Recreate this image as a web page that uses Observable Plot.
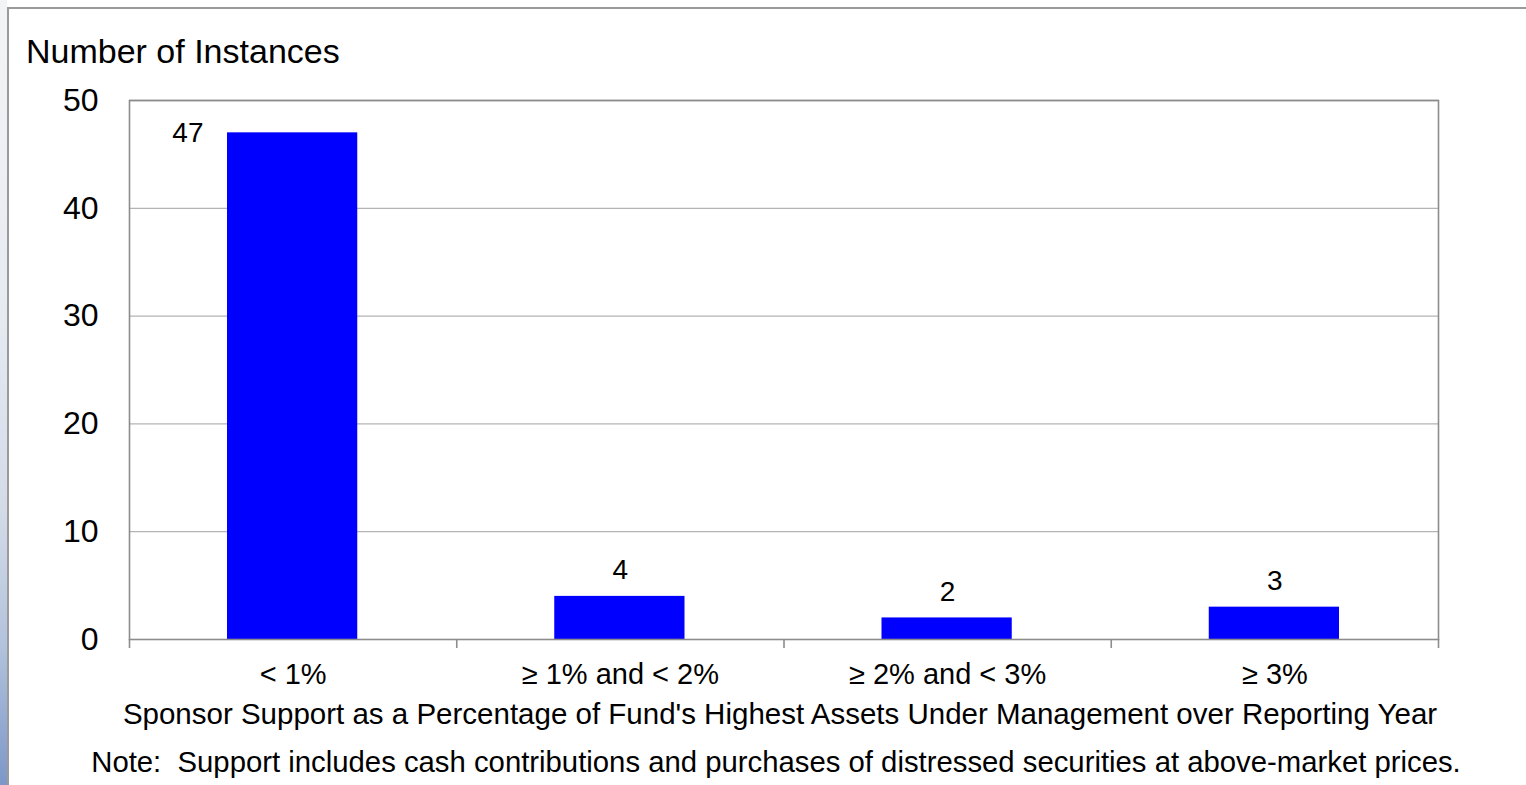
<!DOCTYPE html>
<html>
<head>
<meta charset="utf-8">
<script src="https://cdn.jsdelivr.net/npm/d3@7"></script>
<script src="https://cdn.jsdelivr.net/npm/@observablehq/plot@0.6"></script>
<style>
  html, body { margin: 0; padding: 0; background: #fff; }
  body { font-family: "Liberation Sans", Arial, sans-serif; color: #000; }
  #wrap { position: relative; width: 1526px; height: 785px; overflow: hidden; }
  #strip { position: absolute; left: 0; top: 0; width: 7px; height: 785px;
    background: linear-gradient(#f3f4f6 0%, #e6ebf2 40%, #d3dbe8 65%, #b3c3dc 82%, #7c97c8 100%); }
  #outer { position: absolute; left: 7px; top: 7px; width: 1600px; height: 900px;
    border-top: 2px solid #9a9a9a; border-left: 2px solid #9a9a9a; box-sizing: border-box; }
  #title { position: absolute; left: 26px; top: 34px; font-size: 34px; line-height: 1; white-space: nowrap; }
  #chart { position: absolute; left: 0; top: 75px; }
  #xtitle { position: absolute; left: 0; width: 1560px; top: 699px; font-size: 29.5px; line-height: 1; text-align: center; white-space: nowrap; }
  #note { position: absolute; left: 0; width: 1552px; top: 747px; font-size: 29.3px; line-height: 1; text-align: center; white-space: nowrap; }
</style>
</head>
<body>
<div id="wrap">
  <div id="strip"></div>
  <div id="outer"></div>
  <div id="title">Number of Instances</div>
  <div id="chart"></div>
  <div id="xtitle">Sponsor Support as a Percentage of Fund's Highest Assets Under Management over Reporting Year</div>
  <div id="note">Note:&nbsp; Support includes cash contributions and purchases of distressed securities at above-market prices.</div>
</div>
<script>
const categories = ["< 1%", "≥ 1% and < 2%", "≥ 2% and < 3%", "≥ 3%"];
const counts = [47, 4, 2, 3];
const yTicks = [0, 10, 20, 30, 40, 50];

const data = categories.map((c, i) => ({i, cat: c, count: counts[i]}));
const boundaries = d3.range(categories.length + 1);

const chart = Plot.plot({
  width: 1526,
  height: 625,
  marginLeft: 129,
  marginRight: 88,
  marginTop: 25,
  marginBottom: 61,
  style: {fontFamily: "'Liberation Sans', Arial, sans-serif", color: "#000", background: "transparent"},
  x: {type: "linear", domain: [0, categories.length]},
  y: {domain: [0, 50]},
  marks: [
    Plot.gridY(yTicks.filter(t => t > 0), {stroke: "#b4b4b4", strokeOpacity: 1, strokeWidth: 1.3}),
    Plot.rectY(data, {x1: d => d.i, x2: d => d.i + 1, y: "count", fill: "#0000ff", insetLeft: 98, insetRight: 99}),
    Plot.frame({stroke: "#8c8c8c", strokeWidth: 1.6}),
    Plot.axisX(boundaries, {tickSize: 9, tickFormat: () => "", stroke: "#8c8c8c", strokeWidth: 1.6, label: null}),
    Plot.axisY(yTicks, {tickSize: 0, tickPadding: 31, fontSize: 32, label: null}),
    Plot.text(data, {x: d => d.i + 0.5, y: 0, text: "cat", dy: 35, fontSize: 29, fill: "#000"}),
    Plot.text(data.filter(d => d.count < 40), {x: d => d.i + 0.5, y: "count", text: d => String(d.count), dy: -26, fontSize: 28, fill: "#000"}),
    Plot.text(data.filter(d => d.count >= 40), {x: d => d.i, y: "count", text: d => String(d.count), dx: 74, textAnchor: "end", fontSize: 28, fill: "#000"})
  ]
});
document.getElementById("chart").appendChild(chart);
</script>
</body>
</html>
